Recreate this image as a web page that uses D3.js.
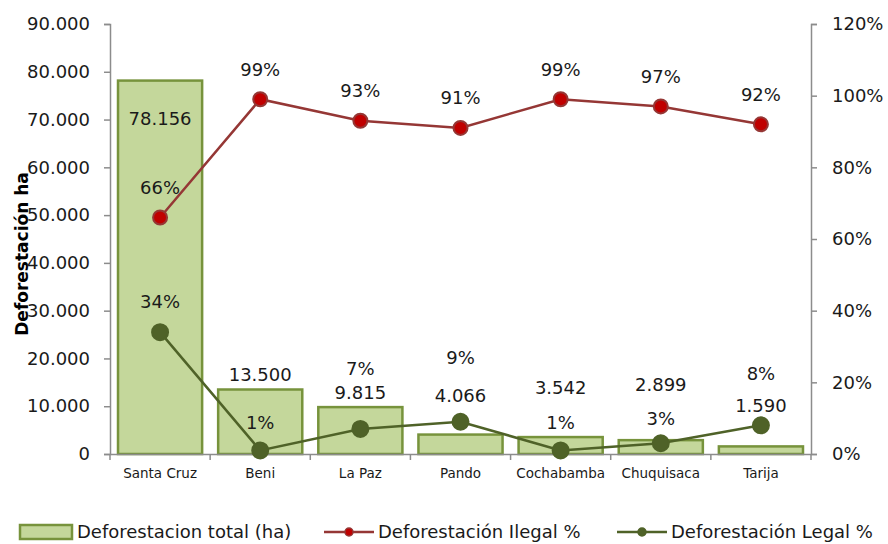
<!DOCTYPE html>
<html>
<head>
<meta charset="utf-8">
<script src="https://cdn.jsdelivr.net/npm/d3@7"></script>
<style>
  body { margin: 0; background: #fff; }
  text { font-family: "DejaVu Sans", sans-serif; fill: #1a1a1a; }
</style>
</head>
<body>
<div id="chart"></div>
<script>
// data
const departamentos = ["Santa Cruz", "Beni", "La Paz", "Pando", "Cochabamba", "Chuquisaca", "Tarija"];
const deforestTotal = [78156, 13500, 9815, 4066, 3542, 2899, 1590];
const ilegalPct = [66, 99, 93, 91, 99, 97, 92];
const legalPct = [34, 1, 7, 9, 1, 3, 8];
const leftTicks = [0, 10000, 20000, 30000, 40000, 50000, 60000, 70000, 80000, 90000];
const rightTicks = [0, 20, 40, 60, 80, 100, 120];

// label nudges (px) so the labels do not collide, as in the original
const barLabelDy = [0, -15, -14, -39, -49, -55, -41];
const legalLabelDy = [-30, -28, -60, -64, -28, -25, -52];

const W = 888, H = 544;
const m = {top: 24, right: 77, bottom: 90, left: 110};

const svg = d3.select("#chart").append("svg")
    .attr("width", W)
    .attr("height", H);

const x = d3.scaleBand()
    .domain(departamentos)
    .range([m.left, W - m.right])
    .paddingInner(0.16)
    .paddingOuter(0.08);
const xBand = d3.scaleBand().domain(departamentos).range([m.left, W - m.right]);
const y = d3.scaleLinear().domain([0, 90000]).range([H - m.bottom, m.top]);
const y2 = d3.scaleLinear().domain([0, 120]).range([H - m.bottom, m.top]);

const fmt = d3.formatLocale({decimal: ",", thousands: ".", grouping: [3], currency: ["", ""]}).format(",");

// bars
svg.append("g").selectAll("rect")
    .data(deforestTotal)
  .enter()
    .append("rect")
    .attr("x", (d, i) => x(departamentos[i]))
    .attr("width", x.bandwidth())
    .attr("y", d => y(d))
    .attr("height", d => y(0) - y(d))
    .style("fill", "#c4d79b")
    .style("stroke", "#77933c")
    .style("stroke-width", 2.5);

// axes
const axisColor = "#8c8c8c";
const gLeft = svg.append("g")
    .attr("transform", `translate(${m.left},0)`)
    .call(d3.axisLeft(y).tickValues(leftTicks).tickFormat(d => d === 0 ? "0" : fmt(d)).tickSize(6).tickPadding(14));
const gRight = svg.append("g")
    .attr("transform", `translate(${W - m.right},0)`)
    .call(d3.axisRight(y2).tickValues(rightTicks).tickFormat(d => d + "%").tickSize(6).tickPadding(15));
const gBottom = svg.append("g")
    .attr("transform", `translate(0,${H - m.bottom})`)
    .call(d3.axisBottom(xBand).tickSize(0).tickPadding(14));

[gLeft, gRight, gBottom].forEach(g => {
  g.select(".domain").attr("stroke", axisColor).attr("stroke-width", 1.5);
  g.selectAll(".tick line").attr("stroke", axisColor).attr("stroke-width", 1.5);
});
gLeft.selectAll(".tick text").style("font-size", "18px").style("fill", "#1a1a1a");
gRight.selectAll(".tick text").style("font-size", "18px").style("fill", "#1a1a1a");
gBottom.selectAll(".tick text").style("font-size", "13.5px").style("fill", "#1a1a1a");

// category boundary ticks on bottom axis
svg.append("g").selectAll("line")
    .data(departamentos.concat(["end"]))
  .enter()
    .append("line")
    .attr("x1", (d, i) => i < departamentos.length ? xBand(d) : xBand.range()[1])
    .attr("x2", (d, i) => i < departamentos.length ? xBand(d) : xBand.range()[1])
    .attr("y1", y(0))
    .attr("y2", y(0) + 6)
    .attr("stroke", axisColor)
    .attr("stroke-width", 1.5);

// y axis title
svg.append("text")
    .attr("transform", `translate(28,${(m.top + H - m.bottom) / 2 + 15}) rotate(-90)`)
    .attr("text-anchor", "middle")
    .style("font-size", "17px")
    .style("font-weight", "bold")
    .style("fill", "#000")
    .text("Deforestación ha");

const cx = d => xBand(d) + xBand.bandwidth() / 2;

// lines
const series = [
  {vals: ilegalPct, line: "#953735", fill: "#c00000", r: 7, dy: ilegalPct.map(() => -30)},
  {vals: legalPct, line: "#4f6228", fill: "#4f6228", r: 8, dy: legalLabelDy}
];
series.forEach(s => {
  svg.append("path")
      .datum(s.vals)
      .attr("d", d3.line().x((d, i) => cx(departamentos[i])).y(d => y2(d)))
      .style("fill", "none")
      .style("stroke", s.line)
      .style("stroke-width", 2.5);
  svg.append("g").selectAll("circle")
      .data(s.vals)
    .enter()
      .append("circle")
      .attr("cx", (d, i) => cx(departamentos[i]))
      .attr("cy", d => y2(d))
      .attr("r", s.r)
      .style("fill", s.fill)
      .style("stroke", s.line)
      .style("stroke-width", 2);
});

// bar labels
svg.append("g").selectAll("text")
    .data(deforestTotal)
  .enter()
    .append("text")
    .attr("x", (d, i) => cx(departamentos[i]))
    .attr("y", (d, i) => i === 0 ? y(d) + 38 : y(d) + barLabelDy[i])
    .attr("dy", "0.35em")
    .attr("text-anchor", "middle")
    .style("font-size", "18px")
    .text(d => fmt(d));

// percent labels
series.forEach(s => {
  svg.append("g").selectAll("text")
      .data(s.vals)
    .enter()
      .append("text")
      .attr("x", (d, i) => cx(departamentos[i]))
      .attr("y", (d, i) => y2(d) + s.dy[i])
      .attr("dy", "0.35em")
      .attr("text-anchor", "middle")
      .style("font-size", "18px")
      .text(d => d + "%");
});

// legend
const legend = svg.append("g").attr("transform", "translate(0,532)");
const legendFont = {"font-family": "'DejaVu Sans Condensed', 'DejaVu Sans', sans-serif", "font-size": "18px"};
legend.append("rect")
    .attr("x", 20).attr("y", -7).attr("width", 52).attr("height", 14)
    .style("fill", "#c4d79b").style("stroke", "#77933c").style("stroke-width", 2.5);
legend.append("text").attr("x", 77).attr("dy", "0.35em")
    .attr("font-family", legendFont["font-family"]).style("font-size", legendFont["font-size"])
    .text("Deforestacion total (ha)");

const legendLines = [
  {x: 324, label: "Deforestación Ilegal %", line: "#953735", fill: "#c00000", r: 4},
  {x: 617, label: "Deforestación Legal %", line: "#4f6228", fill: "#4f6228", r: 4}
];
legendLines.forEach(l => {
  legend.append("line")
      .attr("x1", l.x).attr("x2", l.x + 50)
      .style("stroke", l.line).style("stroke-width", 2.5);
  legend.append("circle")
      .attr("cx", l.x + 25).attr("r", l.r)
      .style("fill", l.fill).style("stroke", l.line).style("stroke-width", 1.5);
  legend.append("text").attr("x", l.x + 54).attr("dy", "0.35em")
      .attr("font-family", legendFont["font-family"]).style("font-size", legendFont["font-size"])
      .text(l.label);
});
</script>
</body>
</html>
